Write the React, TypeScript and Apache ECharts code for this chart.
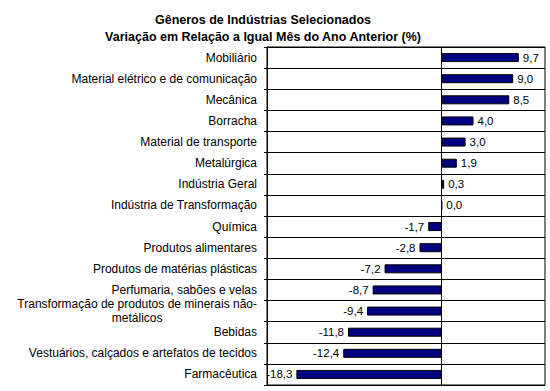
import React, { useEffect, useRef } from "react";
import * as echarts from "echarts";

const categories = [
  "Mobiliário",
  "Material elétrico e de comunicação",
  "Mecânica",
  "Borracha",
  "Material de transporte",
  "Metalúrgica",
  "Indústria Geral",
  "Indústria de Transformação",
  "Química",
  "Produtos alimentares",
  "Produtos de matérias plásticas",
  "Perfumaria, sabões e velas",
  "Transformação de produtos de minerais não-metálicos",
  "Bebidas",
  "Vestuários, calçados e artefatos de tecidos",
  "Farmacêutica",
];

const values = [9.7, 9.0, 8.5, 4.0, 3.0, 1.9, 0.3, 0.0, -1.7, -2.8, -7.2, -8.7, -9.4, -11.8, -12.4, -18.3];

const titleLines = [
  "Gêneros de Indústrias Selecionados",
  "Variação em Relação a Igual Mês do Ano Anterior (%)",
];

const FONT = "'Liberation Sans', Arial, sans-serif";

export default function App() {
  const ref = useRef<HTMLDivElement>(null);
  useEffect(() => {
    if (!ref.current) return;
    const chart = echarts.init(ref.current, null, { renderer: "svg" });
    const fmt = (v: number) => v.toFixed(1).replace(".", ",");
    chart.setOption({
      animation: false,
      backgroundColor: "#ffffff",
      textStyle: { fontFamily: FONT },
      title: {
        text: titleLines.join("\n"),
        left: 258,
        top: 6,
        textAlign: "center",
        textStyle: {
          fontFamily: FONT,
          fontSize: 12.5,
          fontWeight: "bold",
          lineHeight: 17,
          color: "#000",
        },
      },
      grid: {
        left: 267,
        right: 5,
        top: 47,
        bottom: 6,
        show: true,
        borderColor: "#000",
        borderWidth: 1,
        backgroundColor: "transparent",
      },
      xAxis: {
        type: "value",
        min: -22,
        max: 13,
        show: false,
      },
      yAxis: {
        type: "category",
        inverse: true,
        data: categories,
        axisLine: { show: true, onZero: false, lineStyle: { color: "#000" } },
        axisTick: { show: true, length: 3, lineStyle: { color: "#000" } },
        splitLine: { show: true, lineStyle: { color: "#000", width: 1 } },
        axisLabel: {
          fontFamily: FONT,
          fontSize: 12,
          color: "#000",
          margin: 10,
          align: "right",
          formatter: (v: string) => {
            if (v.length > 45) {
              const idx = v.indexOf("não-") + 4;
              return "{c|" + v.slice(0, idx) + "}\n{c|" + v.slice(idx) + "}";
            }
            return v;
          },
          rich: {
            c: {
              align: "center",
              fontFamily: FONT,
              fontSize: 12,
              color: "#000",
              lineHeight: 14,
            },
          },
        },
      },
      series: [
        {
          type: "bar",
          barWidth: 9,
          data: values.map((v) => ({
            value: v,
            label: { position: v < 0 ? "left" : "right" },
          })),
          itemStyle: { color: "#000080", borderColor: "#000", borderWidth: 1 },
          label: {
            show: true,
            distance: 4,
            fontFamily: FONT,
            fontSize: 11.5,
            color: "#000",
            formatter: (p: any) => fmt(p.value),
          },
          markLine: {
            silent: true,
            symbol: "none",
            label: { show: false },
            lineStyle: { color: "#000", type: "solid", width: 1 },
            data: [{ xAxis: 0 }],
          },
        },
      ],
    });
    return () => chart.dispose();
  }, []);
  return (
    <div
      ref={ref}
      style={{ position: "fixed", left: 0, top: 0, width: 550, height: 391 }}
    />
  );
}
